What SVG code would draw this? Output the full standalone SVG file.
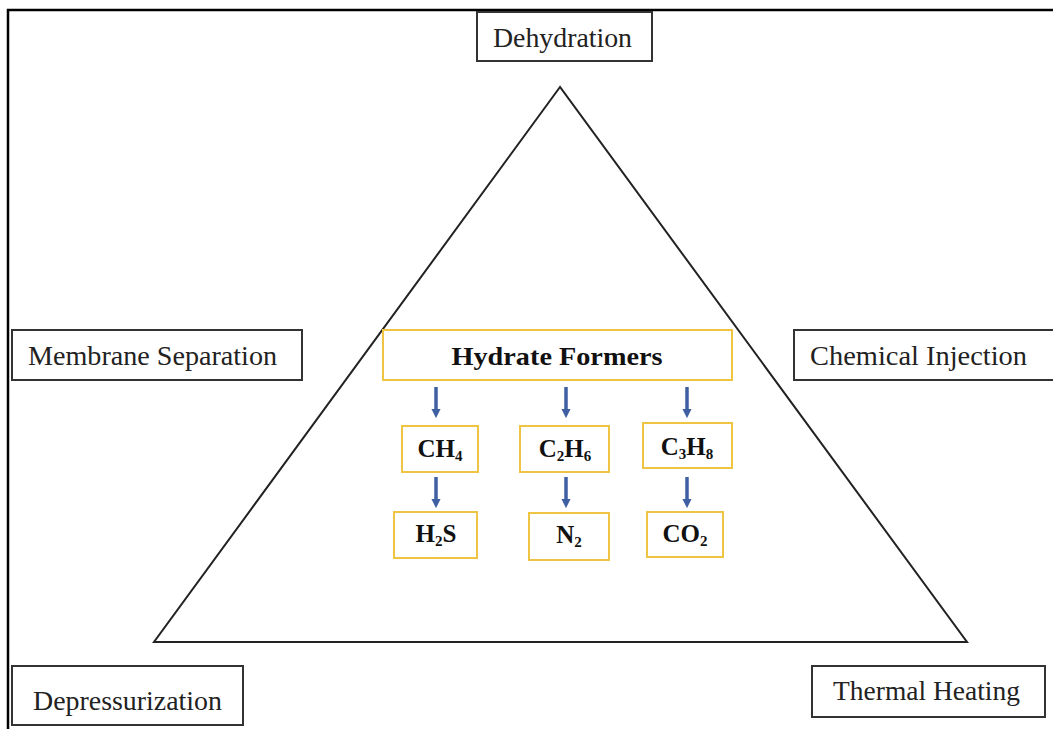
<svg xmlns="http://www.w3.org/2000/svg" width="1053" height="729" viewBox="0 0 1053 729">
<style>
.lbl{fill:#fff;stroke:#333;stroke-width:2}
.gold{fill:#fff;stroke:#EFC443;stroke-width:2}
.t{font-family:"Liberation Serif","Times New Roman",serif;font-size:27px;fill:#222}
.b{font-family:"Liberation Serif","Times New Roman",serif;font-size:25px;font-weight:bold;fill:#111;text-anchor:middle}
.sub{font-size:15px}
.arr{stroke:#3F5FA3;stroke-width:3.5;fill:none}
</style>
<defs>
<marker id="ah" viewBox="0 0 10 10" refX="1" refY="5" markerWidth="2.6" markerHeight="2.6" orient="auto" markerUnits="strokeWidth">
<path d="M0,0 L10,5 L0,10 Z" fill="#3F5FA3"/>
</marker>
</defs>
<rect width="1053" height="729" fill="#fff"/>
<g id="frame" stroke="#000" stroke-width="2.5" fill="none">
<path d="M8,729 V10 H1053"/>
</g>
<g id="triangle">
<path d="M560,87 L154,642 L967,642 Z" fill="none" stroke="#222" stroke-width="2"/>
</g>
<g id="dehydration"><rect class="lbl" x="477" y="12" width="175" height="49"/><text class="t" x="493" y="47" textLength="139" lengthAdjust="spacingAndGlyphs">Dehydration</text></g>
<g id="membrane"><rect class="lbl" x="12" y="330" width="290" height="50"/><text class="t" x="28" y="365" textLength="249" lengthAdjust="spacingAndGlyphs">Membrane  Separation</text></g>
<g id="chemical"><rect class="lbl" x="794" y="330" width="265" height="50"/><text class="t" x="810" y="365" textLength="217" lengthAdjust="spacingAndGlyphs">Chemical  Injection</text></g>
<g id="depressurization"><rect class="lbl" x="12" y="666" width="231" height="59"/><text class="t" x="33" y="710" textLength="189" lengthAdjust="spacingAndGlyphs">Depressurization</text></g>
<g id="thermal"><rect class="lbl" x="812" y="666" width="233" height="51"/><text class="t" x="833" y="700" textLength="187" lengthAdjust="spacingAndGlyphs">Thermal  Heating</text></g>
<g id="hydrate"><rect class="gold" x="383" y="330" width="349" height="50"/><text class="b" x="557" y="365" font-size="26" textLength="211" lengthAdjust="spacingAndGlyphs">Hydrate Formers</text></g>
<g id="ch4"><rect class="gold" x="402" y="426" width="76" height="46"/><text class="b" x="440" y="457">CH<tspan class="sub" dy="4">4</tspan></text></g>
<g id="c2h6"><rect class="gold" x="520" y="426" width="89" height="46"/><text class="b" x="565" y="457">C<tspan class="sub" dy="4">2</tspan><tspan dy="-4">H</tspan><tspan class="sub" dy="4">6</tspan></text></g>
<g id="c3h8"><rect class="gold" x="643" y="423" width="89" height="45"/><text class="b" x="687" y="455">C<tspan class="sub" dy="4">3</tspan><tspan dy="-4">H</tspan><tspan class="sub" dy="4">8</tspan></text></g>
<g id="h2s"><rect class="gold" x="394" y="512" width="83" height="46"/><text class="b" x="436" y="542">H<tspan class="sub" dy="4">2</tspan><tspan dy="-4">S</tspan></text></g>
<g id="n2"><rect class="gold" x="529" y="513" width="80" height="47"/><text class="b" x="569" y="543">N<tspan class="sub" dy="4">2</tspan></text></g>
<g id="co2"><rect class="gold" x="647" y="512" width="76" height="45"/><text class="b" x="685" y="542">CO<tspan class="sub" dy="4">2</tspan></text></g>
<g id="connectors">
<line class="arr" x1="436" y1="387" x2="436" y2="410" marker-end="url(#ah)"/>
<line class="arr" x1="566" y1="387" x2="566" y2="410" marker-end="url(#ah)"/>
<line class="arr" x1="687" y1="387" x2="687" y2="410" marker-end="url(#ah)"/>
<line class="arr" x1="436" y1="477" x2="436" y2="500" marker-end="url(#ah)"/>
<line class="arr" x1="566" y1="477" x2="566" y2="500" marker-end="url(#ah)"/>
<line class="arr" x1="687" y1="477" x2="687" y2="500" marker-end="url(#ah)"/>
</g>
</svg>
